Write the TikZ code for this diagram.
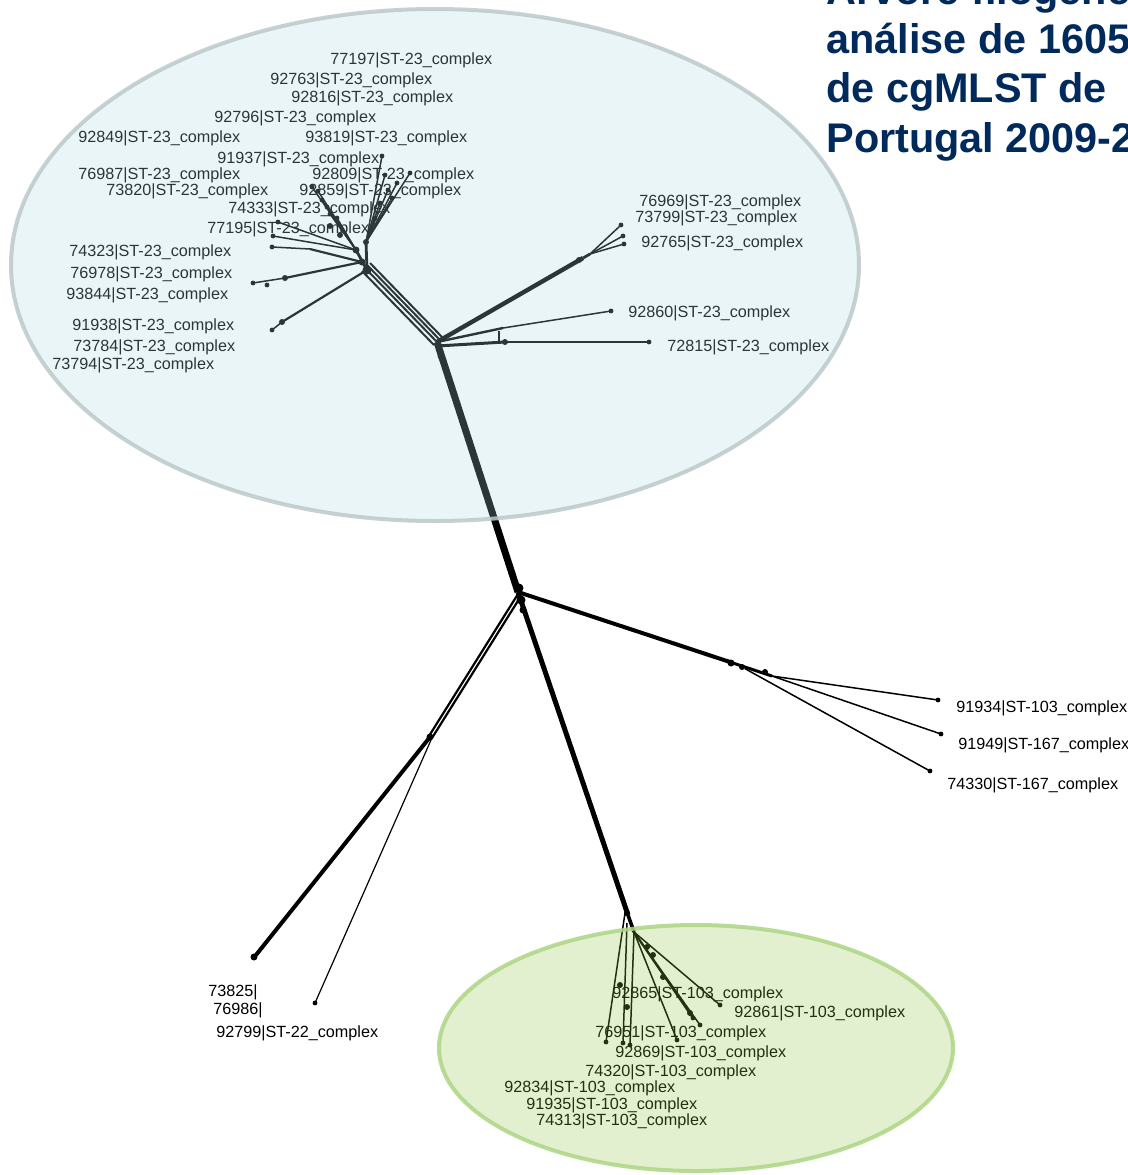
\documentclass[tikz,border=0pt]{standalone}
\usepackage{fontspec}
\setmainfont{Liberation Sans}
\definecolor{titleblue}{RGB}{0,42,92}
\definecolor{topfill}{RGB}{168,216,220}
\definecolor{topedge}{RGB}{188,201,203}
\definecolor{botfill}{RGB}{140,196,68}
\definecolor{botedge}{RGB}{172,214,132}
\begin{document}
\begin{tikzpicture}[x=0.5pt,y=-0.5pt,
  lbl/.style={anchor=base west,inner sep=0pt,font=\fontsize{8.1}{9.7}\selectfont,text=black},
  ttl/.style={anchor=base west,inner sep=0pt,font=\fontsize{20.7}{25}\selectfont\bfseries,text=titleblue},
  leaf/.style={line width=0.75pt,black},
  br/.style={line width=1.4pt,black},
  dotn/.style={circle,fill=black,inner sep=0pt,minimum size=2.4pt},
  knot/.style={circle,fill=black,inner sep=0pt,minimum size=4.5pt}]
\useasboundingbox (0,0) rectangle (1128,1175);
\fill[white] (0,0) rectangle (1128,1175);

% ---------- main coordinates ----------
\coordinate (H) at (437,342);
\coordinate (J) at (518,592);
\coordinate (U) at (367,270);
\coordinate (TR) at (583,258);
\coordinate (L1) at (430,737);
\coordinate (LL) at (256,955);
\coordinate (R1) at (730,662);
\coordinate (R2) at (772,676);
\coordinate (B1) at (628,915);
\coordinate (BH) at (634,932);

% ---------- trunks ----------
\draw[line width=3.5pt] (H) -- (J);
\draw[line width=1.8pt] (440,350) -- (447,372);
\draw[line width=1pt] (437,342) -- (365,268);
\draw[line width=1pt] (439,339) -- (367,265);
\draw[line width=1pt] (434,345) -- (362,271);
\draw[line width=1pt] (442,337) -- (370,263);
\draw[line width=2.5pt] (J) -- (B1);
\draw[line width=1.8pt] (B1) -- (BH);
\draw[line width=1.1pt] (518,594) -- (429,736);
\draw[line width=1.1pt] (521,596) -- (432,738);
\draw[line width=2pt] (L1) -- (LL);
\draw[line width=0.6pt] (431,740) coordinate (L2) -- (315,1003) coordinate (e92799);
\draw[line width=2pt] (J) -- (R1);
\draw[line width=1.5pt] (R1) -- (R2);

% ---------- knots ----------
\node[knot] (kJ1) at (519,588) {};
\node[knot] (kJ2) at (521,600) {};
\node[knot,minimum size=3.5pt] (kJ3) at (523,610) {};
\node[knot,minimum size=3.5pt] (kL1) at (430,737) {};
\node[knot,minimum size=3.5pt] (kLL) at (254,957) {};
\node[knot,minimum size=3.5pt] (kR1) at (731,663) {};
\node[knot,minimum size=3pt] (kR2) at (742,667) {};
\node[knot,minimum size=3pt] (kR3) at (765,672) {};
\node[knot,minimum size=3.5pt] (kH1) at (438,345) {};
\node[knot,minimum size=3.5pt] (kH2) at (441,356) {};
\node[knot,minimum size=3pt] (kB1) at (627,913) {};
\node[knot,minimum size=3pt] (kTR) at (579,260) {};

% ---------- right cluster ----------
\draw[leaf] (R2) -- (938,700) node[dotn] (d91934) {};
\draw[leaf] (R2) -- (941,734) node[dotn] (d91949) {};
\draw[leaf] (kR2) -- (930,771) node[dotn] (d74330) {};
\node[dotn] at (e92799) {};

% ---------- top-right branches ----------
\draw[line width=2.2pt] (H) -- (TR);
\draw[line width=1.4pt] (TR) -- (590,254) coordinate (TR2);
\draw[leaf] (TR2) -- (621,225) node[dotn] {};
\draw[leaf] (TR2) -- (623,236) node[dotn] {};
\draw[leaf] (TR2) -- (624,244) node[dotn] {};
\draw[line width=1.2pt] (H) -- (503,328) coordinate (b1);
\draw[leaf] (b1) -- (611,311) node[dotn] {};
\draw[line width=1.5pt] (437,346) -- (505,342) coordinate (b2);
\draw[leaf] (b2) -- (649,342) node[dotn] {};
\draw[line width=0.6pt] (499,331) -- (499,341);
\node[knot,minimum size=3pt] at (b2) {};

% ---------- upper-left cluster ----------
\coordinate (U1) at (356,250);
\coordinate (U2) at (362,262);
\coordinate (U3) at (366,242);
\draw[line width=1.4pt] (U) -- (U1);
\draw[line width=1.4pt] (U) -- (U3);
\foreach \e in {(382,156),(410,173),(397,183),(388,190),(380,203),(375,218),(392,198),(385,175)}
  \draw[leaf] (U3) -- \e node[dotn] {};
\foreach \e in {(312,187),(318,191),(322,200),(327,207),(330,214),(337,218)}
  \draw[leaf] (U1) -- \e node[dotn] {};
\draw[leaf] (U1) -- (273,236) node[dotn] {};
\draw[leaf] (U1) -- (278,222) node[dotn] {};
\draw[line width=1.1pt] (U2) -- (310,249) coordinate (u4);
\draw[leaf] (u4) -- (272,247) node[dotn] {};
\draw[line width=1.1pt] (U2) -- (285,278) coordinate (u5);
\draw[leaf] (u5) -- (253,283) node[dotn] {};
\node[dotn] at (267,285) {};
\node[knot,minimum size=3pt] at (u5) {};
\draw[line width=1.1pt] (U) -- (282,322) coordinate (u6);
\draw[leaf] (u6) -- (272,330) node[dotn] {};
\node[knot,minimum size=3pt] at (u6) {};
\node[knot] at (U) {};
\node[knot,minimum size=3.5pt] at (U1) {};
\node[knot,minimum size=3.5pt] at (U2) {};
\node[knot,minimum size=3pt] at (U3) {};
\node[knot,minimum size=3pt] at (340,235) {};
\node[knot,minimum size=3pt] at (330,226) {};

% ---------- bottom cluster ----------
\draw[leaf] (625,913) -- (606,1042) node[dotn] {};
\draw[leaf] (627,923) -- (623,1043) node[dotn] {};
\draw[leaf] (BH) -- (630,1045) node[dotn] {};
\draw[leaf] (BH) -- (677,1040) node[dotn] {};
\draw[line width=1.1pt] (BH) -- (693,1018) node[dotn] {};
\draw[leaf] (BH) -- (700,1025) node[dotn] {};
\draw[leaf] (BH) -- (720,1005) node[dotn] {};
\node[knot,minimum size=3pt] at (620,985) {};
\node[knot,minimum size=3pt] at (627,1007) {};
\node[knot,minimum size=3pt] at (647,947) {};
\node[knot,minimum size=3pt] at (653,955) {};
\node[knot,minimum size=3pt] at (663,977) {};
\node[knot,minimum size=3pt] at (690,1013) {};

% ---------- labels ----------
\node[lbl] (t77197) at (330,64) {77197|ST-23\_complex};
\node[lbl] (t92763) at (270,84) {92763|ST-23\_complex};
\node[lbl] (t92816) at (291,102) {92816|ST-23\_complex};
\node[lbl] (t92796) at (214,122) {92796|ST-23\_complex};
\node[lbl] (t92849) at (78,142) {92849|ST-23\_complex};
\node[lbl] (t93819) at (305,142) {93819|ST-23\_complex};
\node[lbl] (t91937) at (217,163) {91937|ST-23\_complex};
\node[lbl] (t76987) at (78,179) {76987|ST-23\_complex};
\node[lbl] (t92809) at (312,179) {92809|ST-23\_complex};
\node[lbl] (t73820) at (106,195) {73820|ST-23\_complex};
\node[lbl] (t92859) at (299,195) {92859|ST-23\_complex};
\node[lbl] (t74333) at (228,213) {74333|ST-23\_complex};
\node[lbl] (t77195) at (207,233) {77195|ST-23\_complex};
\node[lbl] (t74323) at (69,256) {74323|ST-23\_complex};
\node[lbl] (t76978) at (70,278) {76978|ST-23\_complex};
\node[lbl] (t93844) at (66,299) {93844|ST-23\_complex};
\node[lbl] (t91938) at (72,330) {91938|ST-23\_complex};
\node[lbl] (t73784) at (73,351) {73784|ST-23\_complex};
\node[lbl] (t73794) at (52,369) {73794|ST-23\_complex};
\node[lbl] (t76969) at (639,206) {76969|ST-23\_complex};
\node[lbl] (t73799) at (635,222) {73799|ST-23\_complex};
\node[lbl] (t92765) at (641,247) {92765|ST-23\_complex};
\node[lbl] (t92860) at (628,317) {92860|ST-23\_complex};
\node[lbl] (t72815) at (667,351) {72815|ST-23\_complex};
\node[lbl] (t91934) at (956,712) {91934|ST-103\_complex};
\node[lbl] (t91949) at (958,749) {91949|ST-167\_complex};
\node[lbl] (t74330) at (947,789) {74330|ST-167\_complex};
\node[lbl] (t73825) at (208,996) {73825|};
\node[lbl] (t76986) at (213,1014) {76986|};
\node[lbl] (t92799) at (216,1037) {92799|ST-22\_complex};
\node[lbl] (t92865) at (612,998) {92865|ST-103\_complex};
\node[lbl] (t92861) at (734,1017) {92861|ST-103\_complex};
\node[lbl] (t76951) at (595,1037) {76951|ST-103\_complex};
\node[lbl] (t92869) at (615,1057) {92869|ST-103\_complex};
\node[lbl] (t74320) at (585,1076) {74320|ST-103\_complex};
\node[lbl] (t92834) at (504,1092) {92834|ST-103\_complex};
\node[lbl] (t91935) at (526,1109) {91935|ST-103\_complex};
\node[lbl] (t74313) at (536,1125) {74313|ST-103\_complex};

% ---------- ellipses (translucent, on top) ----------
\draw[fill=topfill,fill opacity=0.25,draw=topedge,draw opacity=0.85,line width=2pt]
  (435,265) ellipse [x radius=424, y radius=256];
\draw[fill=botfill,fill opacity=0.25,draw=botedge,draw opacity=0.85,line width=2pt]
  (696,1048) ellipse [x radius=257, y radius=123];

% ---------- title (cut at the right and top edge, as in the reference) ----------
\node[ttl] (title1) at (826,4) {Árvore filogenética};
\node[ttl] (title2) at (826,53) {análise de 1605};
\node[ttl] (title3) at (826,102) {de cgMLST de};
\node[ttl] (title4) at (826,152) {Portugal 2009-2};
\end{tikzpicture}
\end{document}
